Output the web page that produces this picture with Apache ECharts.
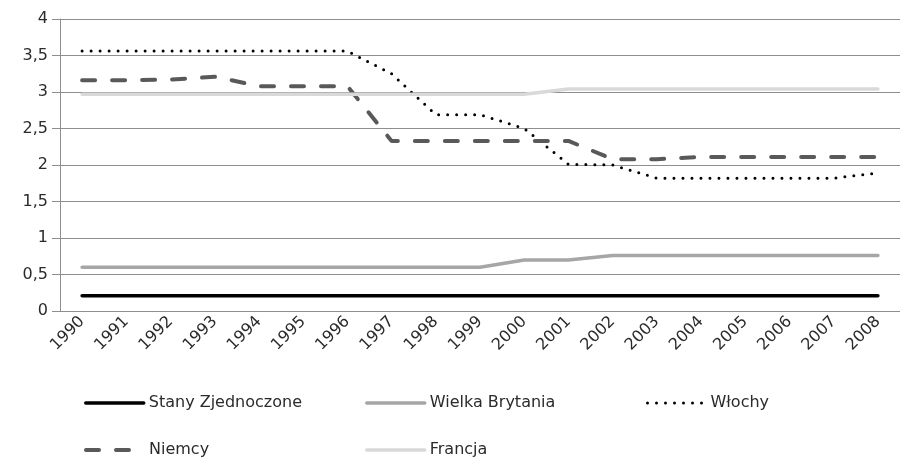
<!DOCTYPE html>
<html>
<head>
<meta charset="utf-8">
<script src="https://cdn.jsdelivr.net/npm/echarts@6/dist/echarts.min.js"></script>
<style>
  html, body { margin: 0; padding: 0; background: #fff; }
  #chart { width: 900px; height: 460px; }
</style>
</head>
<body>
<div id="chart"></div>
<script>
const years = ["1990", "1991", "1992", "1993", "1994", "1995", "1996", "1997", "1998", "1999",
  "2000", "2001", "2002", "2003", "2004", "2005", "2006", "2007", "2008"];

const usa = [0.21, 0.21, 0.21, 0.21, 0.21, 0.21, 0.21, 0.21, 0.21, 0.21,
  0.21, 0.21, 0.21, 0.21, 0.21, 0.21, 0.21, 0.21, 0.21];
const uk = [0.6, 0.6, 0.6, 0.6, 0.6, 0.6, 0.6, 0.6, 0.6, 0.6,
  0.7, 0.7, 0.76, 0.76, 0.76, 0.76, 0.76, 0.76, 0.76];
const italy = [3.56, 3.56, 3.56, 3.56, 3.56, 3.56, 3.56, 3.25, 2.69, 2.69,
  2.5, 2.01, 2.0, 1.82, 1.82, 1.82, 1.82, 1.82, 1.89];
const germany = [3.16, 3.16, 3.17, 3.21, 3.08, 3.08, 3.08, 2.33, 2.33, 2.33,
  2.33, 2.33, 2.08, 2.08, 2.11, 2.11, 2.11, 2.11, 2.11];
const france = [2.97, 2.97, 2.97, 2.97, 2.97, 2.97, 2.97, 2.97, 2.97, 2.97,
  2.97, 3.04, 3.04, 3.04, 3.04, 3.04, 3.04, 3.04, 3.04];

const font = "DejaVu Sans";
const txt = "#2b2b2b";
const gridGray = "#8e8e8e";

const chart = echarts.init(document.getElementById("chart"));

// one legend per entry so each sits in its own column
const legendAt = (name, left, top, width) => ({
  data: [name],
  left: left,
  top: top,
  itemWidth: 58,
  itemHeight: 14,
  itemStyle: { opacity: 0 },
  lineStyle: { width: width, cap: "round" },
  textStyle: { fontFamily: font, fontSize: 16, color: txt },
});

const line = (name, data, color, width, type) => ({
  name: name,
  type: "line",
  data: data,
  symbol: "none",
  lineStyle: { color: color, width: width, type: type, cap: "round" },
  itemStyle: { color: color },
});

chart.setOption({
  animation: false,
  grid: { left: 60, top: 19, width: 850, height: 292 },
  legend: [
    legendAt("Stany Zjednoczone", 79, 390, 3.5),
    legendAt("Wielka Brytania", 360, 390, 3.5),
    legendAt("Włochy", 641, 390, 3),
    legendAt("Niemcy", 79, 437, 4),
    legendAt("Francja", 360, 437, 3.5),
  ],
  xAxis: {
    type: "category",
    data: years,
    boundaryGap: true,
    axisLine: { lineStyle: { color: gridGray } },
    axisTick: { length: 6, lineStyle: { color: gridGray } },
    axisLabel: { rotate: 45, fontFamily: font, fontSize: 16, color: txt, margin: 8 },
  },
  yAxis: {
    type: "value",
    min: 0,
    max: 4,
    interval: 0.5,
    axisLine: { show: true, lineStyle: { color: gridGray } },
    axisTick: { show: true, length: 8, lineStyle: { color: gridGray } },
    axisLabel: {
      fontFamily: font,
      fontSize: 16,
      color: txt,
      margin: 12,
      formatter: (v) => String(v).replace(".", ","),
    },
    splitLine: { lineStyle: { color: gridGray } },
  },
  series: [
    line("Stany Zjednoczone", usa, "#000000", 3.5, "solid"),
    line("Wielka Brytania", uk, "#a6a6a6", 3.5, "solid"),
    line("Włochy", italy, "#000000", 3, [0, 9]),
    line("Niemcy", germany, "#595959", 4, [13, 17]),
    line("Francja", france, "#d9d9d9", 3.5, "solid"),
  ],
});
</script>
</body>
</html>
